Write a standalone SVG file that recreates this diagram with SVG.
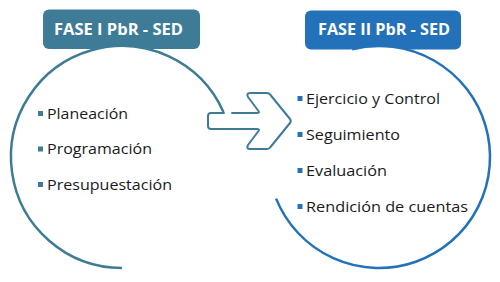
<svg xmlns="http://www.w3.org/2000/svg" width="500" height="282" viewBox="0 0 500 282">
<style>
.hdr{font-family:"Open Sans","Liberation Sans",sans-serif;font-weight:bold;font-size:15.5px;fill:#ffffff}
.item{font-family:"Open Sans","Liberation Sans",sans-serif;font-size:15px;font-weight:500;fill:#1a1a1a}
.teal{fill:#3e7b96}
.blue{fill:#2372b9}
.ring{fill:none;stroke-width:2.5}
</style>
<rect width="500" height="282" fill="#ffffff"/>
<g id="fase1">
  <rect class="teal" x="43" y="9.5" width="157" height="39.5" rx="6"/>
  <text class="hdr" x="54" y="34.5" textLength="129" lengthAdjust="spacingAndGlyphs">FASE I PbR - SED</text>
  <circle cx="122" cy="157" r="111" fill="#ffffff"/>
  <path class="ring" stroke="#3e7b96" d="M 223.4 111.9 A 111 111 0 1 0 122 268"/>
  <rect class="teal" x="38" y="111" width="5" height="5"/>
  <text class="item" x="47" y="118.5" textLength="81" lengthAdjust="spacingAndGlyphs">Planeación</text>
  <rect class="teal" x="38" y="146.5" width="5" height="5"/>
  <text class="item" x="47" y="154" textLength="105" lengthAdjust="spacingAndGlyphs">Programación</text>
  <rect class="teal" x="38" y="182" width="5" height="5"/>
  <text class="item" x="47" y="189.5" textLength="125" lengthAdjust="spacingAndGlyphs">Presupuestación</text>
</g>
<g id="fase2">
  <rect class="blue" x="305" y="10.5" width="156" height="39" rx="6"/>
  <text class="hdr" x="318" y="34.5" textLength="132" lengthAdjust="spacingAndGlyphs">FASE II PbR - SED</text>
  <circle cx="379" cy="157" r="111" fill="#ffffff"/>
  <path class="ring" stroke="#2372b9" d="M 276.1 198.6 A 111 111 0 1 0 352.1 49.3"/>
  <rect class="blue" x="297.5" y="96" width="5" height="5"/>
  <text class="item" x="306" y="104" textLength="134" lengthAdjust="spacingAndGlyphs">Ejercicio y Control</text>
  <rect class="blue" x="297.5" y="132" width="5" height="5"/>
  <text class="item" x="306" y="139.5" textLength="94" lengthAdjust="spacingAndGlyphs">Seguimiento</text>
  <rect class="blue" x="297.5" y="168" width="5" height="5"/>
  <text class="item" x="306" y="175.5" textLength="81" lengthAdjust="spacingAndGlyphs">Evaluación</text>
  <rect class="blue" x="297.5" y="204" width="5" height="5"/>
  <text class="item" x="306" y="211.5" textLength="162" lengthAdjust="spacingAndGlyphs">Rendición de cuentas</text>
</g>
<g id="connectors">
  <path id="arrow" fill="#ffffff" stroke="#3e7b96" stroke-width="2" stroke-linejoin="round" stroke-linecap="round" d="M 232 113 L 257 113 Q 260 113 258.5 111 L 248 97 Q 246 93 250 93 L 267 93 Q 269 93 270.5 95 L 290 119 Q 291.5 121 290 123 L 270.5 147 Q 269 149 267 149 L 250 149 Q 246 149 248 145 L 258.5 131 Q 260 129 257 129 L 211 129 Q 208 129 208 126 L 208 116 Q 208 113 211 113 L 224 113"/>
</g>
</svg>
